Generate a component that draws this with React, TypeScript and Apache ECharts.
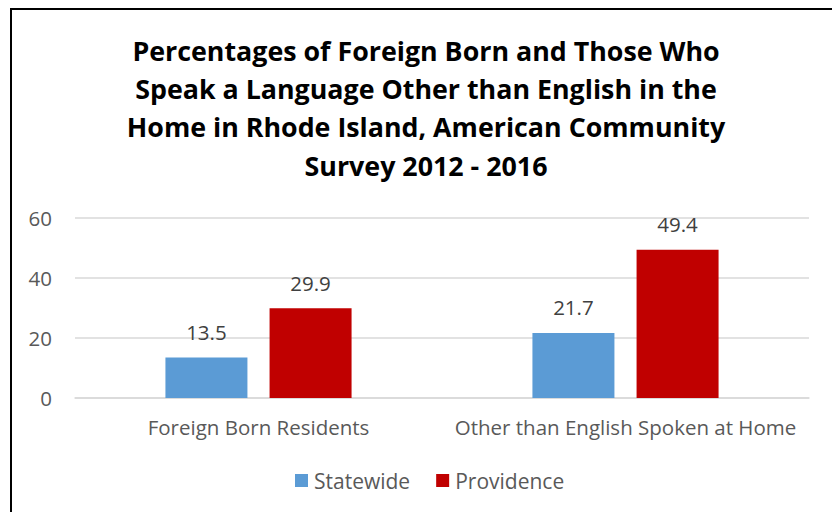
import React, { useEffect, useRef } from "react";
import * as echarts from "echarts";

const categories = ["Foreign Born Residents", "Other than English Spoken at Home"];
const statewide = [13.5, 21.7];
const providence = [29.9, 49.4];
const titleText =
  "Percentages of Foreign Born and Those Who\nSpeak a Language Other than English in the\nHome in Rhode Island, American Community\nSurvey 2012 - 2016";

const FONT = "'Open Sans', 'Noto Sans', sans-serif";

export default function App() {
  const ref = useRef<HTMLDivElement>(null);
  useEffect(() => {
    if (!ref.current) return;
    const chart = echarts.init(ref.current, undefined, { renderer: "svg" });
    const label = {
      show: true,
      position: "top",
      distance: 15,
      color: "#404040",
      fontSize: 20.5,
      fontFamily: FONT,
    };
    chart.setOption({
      animation: false,
      backgroundColor: "#ffffff",
      title: {
        text: titleText,
        left: 421,
        textAlign: "center",
        top: 26,
        textStyle: {
          fontFamily: FONT,
          fontWeight: "bold",
          fontSize: 26.8,
          lineHeight: 38.3,
          color: "#000000",
        },
      },
      graphic: [
        {
          type: "rect",
          shape: { x: 11, y: 9, width: 900, height: 700 },
          style: { fill: "none", stroke: "#000000", lineWidth: 2 },
          silent: true,
        },
      ],
      legend: {
        data: ["Statewide", "Providence"],
        left: 290,
        top: 465,
        itemWidth: 13,
        itemHeight: 13,
        itemGap: 26,
        icon: "rect",
        textStyle: { color: "#595959", fontSize: 21, fontFamily: FONT, padding: [0, 0, 0, 1] },
      },
      grid: { left: 75, right: 23, top: 218, bottom: 114 },
      xAxis: {
        type: "category",
        data: categories,
        axisLine: { lineStyle: { color: "#d9d9d9", width: 1.5 } },
        axisTick: { show: false },
        axisLabel: {
          color: "#595959",
          fontSize: 20.5,
          fontFamily: FONT,
          margin: 18,
          interval: 0,
        },
      },
      yAxis: {
        type: "value",
        min: 0,
        max: 60,
        interval: 20,
        axisLine: { show: false },
        axisTick: { show: false },
        splitLine: { lineStyle: { color: "#d9d9d9", width: 1.5 } },
        axisLabel: { color: "#595959", fontSize: 20.5, fontFamily: FONT, margin: 23 },
      },
      series: [
        {
          name: "Statewide",
          type: "bar",
          data: statewide,
          barWidth: 82,
          barGap: "27%",
          itemStyle: { color: "#5B9BD5" },
          label,
        },
        {
          name: "Providence",
          type: "bar",
          data: providence,
          barWidth: 82,
          itemStyle: { color: "#C00000" },
          label,
        },
      ],
    });
    return () => chart.dispose();
  }, []);
  return (
    <div
      ref={ref}
      style={{ position: "absolute", left: 0, top: 0, width: 832, height: 512 }}
    />
  );
}
